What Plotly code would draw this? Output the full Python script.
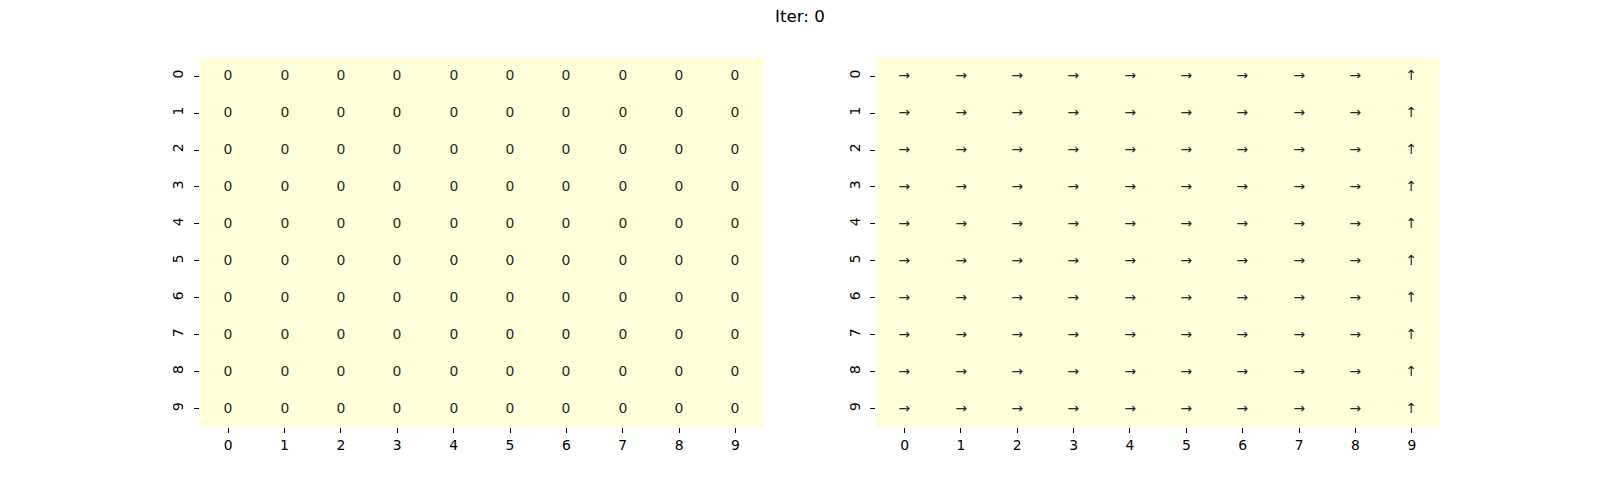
import plotly.graph_objects as go

rows = list(range(10))
cols = list(range(10))
values = [[0] * 10 for _ in rows]
policy_row = ["→"] * 9 + ["↑"]
policy = [list(policy_row) for _ in rows]
value_text = [[str(v) for v in r] for r in values]
title = "Iter: 0"

FONT = "DejaVu Sans"
CELL = "#ffffd9"
cs = [[0, CELL], [1, CELL]]

fig = go.Figure()
fig.add_trace(go.Heatmap(z=values, x=cols, y=rows, text=value_text, texttemplate="%{text}",
                         textfont=dict(family=FONT, size=13.9, color="#262626"),
                         colorscale=cs, zmin=0, zmax=1, showscale=False,
                         xaxis="x", yaxis="y", hoverinfo="skip"))
fig.add_trace(go.Heatmap(z=values, x=cols, y=rows, text=policy, texttemplate="%{text}",
                         textfont=dict(family=FONT, size=13.9, color="#262626"),
                         colorscale=cs, zmin=0, zmax=1, showscale=False,
                         xaxis="x2", yaxis="y2", hoverinfo="skip"))

axis_common = dict(showgrid=False, zeroline=False, showline=False, ticks="outside",
                   ticklen=5, tickwidth=1.1, tickcolor="black",
                   tickfont=dict(family=FONT, size=13.9, color="black"),
                   tickmode="array", tickvals=cols, ticktext=[str(c) for c in cols])
fig.update_layout(
    width=1600, height=480, margin=dict(l=0, r=0, t=0, b=0),
    paper_bgcolor="white", plot_bgcolor="white",
    xaxis=dict(domain=[0.125, 0.47727], anchor="y", range=[-0.5, 9.5], **axis_common),
    yaxis=dict(domain=[0.11, 0.88], anchor="x", range=[9.5, -0.5], tickangle=-90,
               ticklabelstandoff=5, **axis_common),
    xaxis2=dict(domain=[0.54773, 0.9], anchor="y2", range=[-0.5, 9.5], **axis_common),
    yaxis2=dict(domain=[0.11, 0.88], anchor="x2", range=[9.5, -0.5], tickangle=-90,
                ticklabelstandoff=5, **axis_common),
    annotations=[dict(text=title, x=0.5, y=0.992, xref="paper", yref="paper",
                      xanchor="center", yanchor="top", showarrow=False,
                      font=dict(family=FONT, size=16.7, color="black"))],
)
fig.write_html("out.html", config={"displayModeBar": False},
               post_script="document.body.style.margin='0';")
